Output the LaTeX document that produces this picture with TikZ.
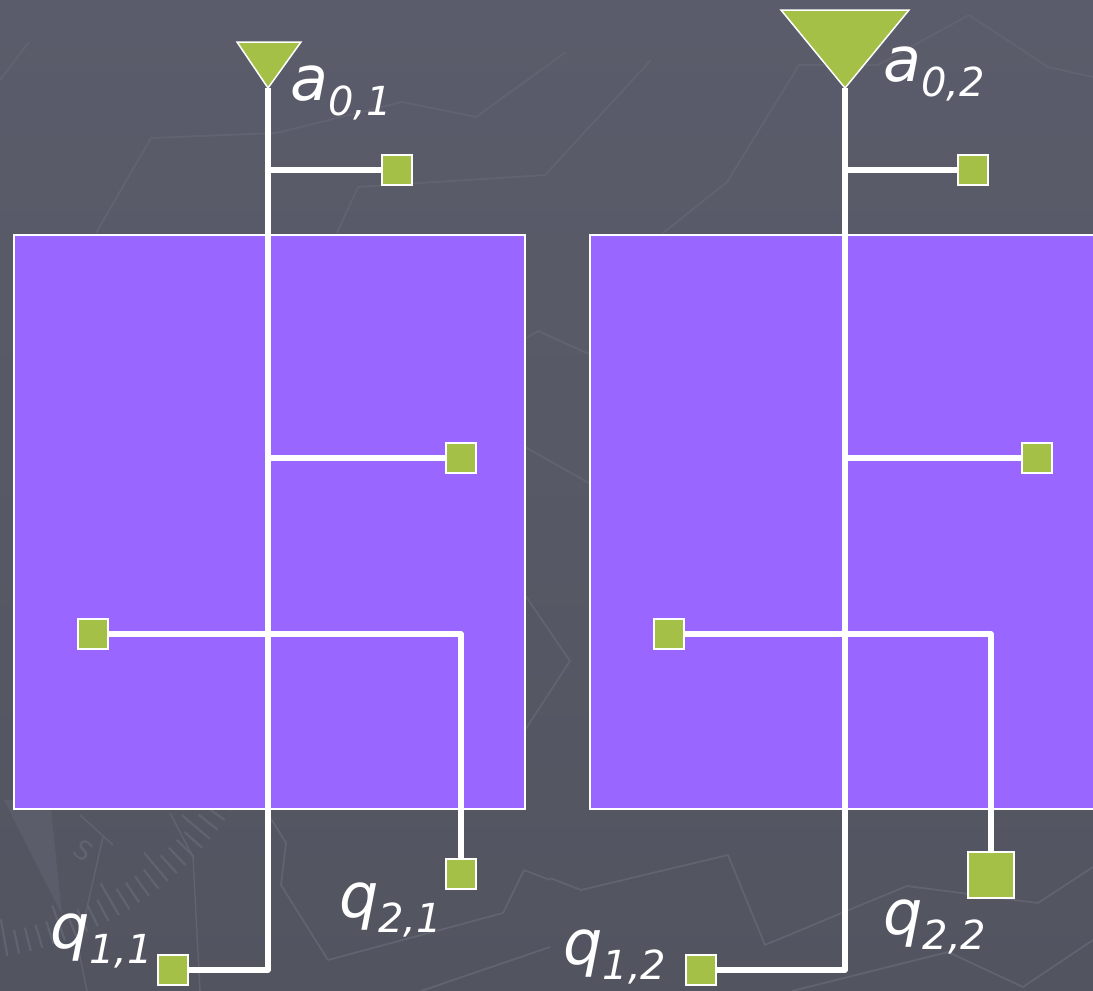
\documentclass[tikz,border=0pt]{standalone}
\usepackage{fontspec}
\setmainfont{DejaVu Sans}
\definecolor{bgtop}{RGB}{91,92,107}
\definecolor{bgbot}{RGB}{82,85,96}
\definecolor{panel}{RGB}{153,102,255}
\definecolor{leaf}{RGB}{165,192,70}
\definecolor{trace}{RGB}{97,99,113}
\pgfdeclarelayer{bg}
\pgfdeclarelayer{wires}
\pgfsetlayers{bg,wires,main}
% lowered index after a variable letter
\newcommand\idx[1]{\raisebox{-15pt}{\fontsize{40}{40}\selectfont #1}}
\begin{document}
\begin{tikzpicture}[x=1pt,y=-1pt,
  panelbox/.style={fill=panel,draw=white,line width=2pt},
  pin/.style={rectangle,fill=leaf,draw=white,line width=2pt,minimum size=30pt,inner sep=0pt},
  bigpin/.style={pin,minimum size=46pt},
  horn/.style={fill=leaf,draw=white,line width=1.5pt,line join=miter},
  wire/.style={draw=white,line width=5.5pt,line join=round},
  lbl/.style={text=white,inner sep=0pt,anchor=base west,font=\fontsize{62}{62}\selectfont\itshape},
  trail/.style={draw=trace,line width=1.8pt,line join=round},
  tick/.style={draw=trace,line width=2.2pt},
]
\useasboundingbox (0,0) rectangle (1093,991);

\begin{pgfonlayer}{bg}
  \clip (0,0) rectangle (1093,991);
  \fill[top color=bgtop,bottom color=bgbot] (0,0) rectangle (1093,991);

  % faint map traces
  \draw[trail] (0,80) -- (29,42);
  \draw[trail] (96,233) -- (151,138) -- (276,133) -- (402,102) -- (476,117) -- (566,52);
  \draw[trail] (337,233) -- (358,187) -- (545,175) -- (651,60);
  \draw[trail] (663,233) -- (727,182) -- (799,65) -- (878,65) -- (969,15) -- (1048,67) -- (1093,77);
  \draw[trail] (525,339) -- (538,331) -- (589,354);
  \draw[trail] (525,447) -- (589,483);
  \draw[trail] (525,595) -- (570,661) -- (525,730);
  \draw[trail] (270,817) -- (286,843) -- (281,885) -- (328,960) -- (503,913) -- (524,870) -- (550,880);
  \draw[trail] (421,991) -- (550,947);
  \draw[trail] (550,878) -- (581,890) -- (728,855) -- (765,945) -- (844,912) -- (907,886) -- (1038,903) -- (1093,867);
  \draw[trail] (792,991) -- (948,952) -- (1023,987) -- (1093,940);

  % faint compass
  \fill[trace,opacity=0.6] (4,800) -- (50,800) -- (62,915) -- cycle;
  \draw[trail,line width=1.4pt] (103,837) -- (78,947) -- (87,991);
  \draw[trail,line width=1.4pt] (170,813) -- (193,857) -- (200,991);
  \draw[trail,line width=1.4pt] (80,815) -- (113,845);
  \foreach \p [count=\k] in {-8,-6,...,62} {
    \pgfmathsetmacro\rin{mod(\k,5)==0 ? 305 : 318}
    \draw[tick] ({-52+\rin*sin(\p)},{619+\rin*cos(\p)}) -- ({-52+342*sin(\p)},{619+342*cos(\p)});
  }
  \node[text=trace,rotate=-35,font=\fontsize{26}{26}\selectfont] (compS) at (84,850) {S};

  % panels
  \path[panelbox] (14,235) rectangle (525,809);
  \path[panelbox] (590,235) rectangle (1100,809);
\end{pgfonlayer}

% ---- left tree ----
\filldraw[horn] (237,42) -- (301,42) -- (268,88) -- cycle;
\coordinate (t1) at (268,88);
\node[pin] (s1a) at (397,170) {};
\node[pin] (s1b) at (461,458) {};
\node[pin] (s1c) at (93,634) {};
\node[pin] (s1d) at (461,874) {};
\node[pin] (s1e) at (173,970) {};

% ---- right tree ----
\filldraw[horn] (781,10) -- (909,10) -- (845,88) -- cycle;
\coordinate (t2) at (845,88);
\node[pin] (s2a) at (973,170) {};
\node[pin] (s2b) at (1037,458) {};
\node[pin] (s2c) at (669,634) {};
\node[bigpin] (s2d) at (991,875) {};
\node[pin] (s2e) at (701,970) {};

\begin{pgfonlayer}{wires}
  \draw[wire] (t1) |- (s1e.east);
  \draw[wire] (t1 |- s1a) -- (s1a.west);
  \draw[wire] (t1 |- s1b) -- (s1b.west);
  \draw[wire] (s1c.east) -| (s1d.north);
  \draw[wire] (t2) |- (s2e.east);
  \draw[wire] (t2 |- s2a) -- (s2a.west);
  \draw[wire] (t2 |- s2b) -- (s2b.west);
  \draw[wire] (s2c.east) -| (s2d.north);
\end{pgfonlayer}

% labels
\node[lbl] (la1) at (290,100) {a\idx{0,1}};
\node[lbl] (la2) at (883,81) {a\idx{0,2}};
\node[lbl] (lq11) at (50,948) {q\idx{1,1}};
\node[lbl] (lq21) at (339,917) {q\idx{2,1}};
\node[lbl] (lq12) at (563,964) {q\idx{1,2}};
\node[lbl] (lq22) at (883,934) {q\idx{2,2}};
\end{tikzpicture}
\end{document}
